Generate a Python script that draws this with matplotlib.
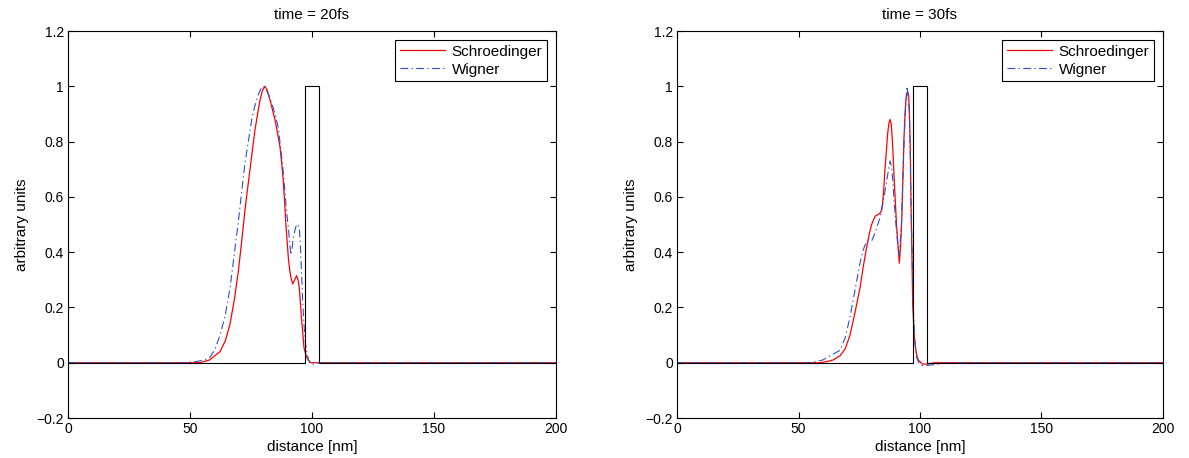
import matplotlib
matplotlib.use("Agg")
import matplotlib.pyplot as plt

plt.rcParams["font.family"] = ["Liberation Sans", "DejaVu Sans"]
plt.rcParams["font.size"] = 10

# ---- data ----
titles = ["time = 20fs", "time = 30fs"]

# time = 20fs
schr20_x = [0, 50, 54, 58, 62.3, 64.5, 66.4, 68.2, 69.8, 71.2, 72.5, 73.6, 74.6, 75.6, 76.6,
            77.7, 78.7, 79.7, 80.7, 81.7, 82.8, 83.8, 84.8, 85.9, 86.9, 87.6, 88.2, 88.8,
            89.3, 89.8, 90.3, 90.8, 91.3, 92.1, 92.9, 93.7, 94.3, 94.8, 95.3, 95.8, 96.3,
            96.7, 97.6, 98.5, 99.5, 105, 200]
schr20_y = [0, 0, 0, 0.01, 0.04, 0.08, 0.14, 0.23, 0.33, 0.44, 0.55, 0.63, 0.70, 0.77, 0.84,
            0.90, 0.95, 0.985, 1.0, 0.985, 0.95, 0.915, 0.88, 0.83, 0.78, 0.72, 0.66, 0.58,
            0.50, 0.44, 0.38, 0.34, 0.31, 0.285, 0.30, 0.315, 0.30, 0.27, 0.21, 0.15, 0.10,
            0.055, 0.025, 0.01, 0, 0, 0]

wig20_x = [0, 48, 53, 56, 58.2, 60.3, 62.3, 64.4, 66.4, 68.1, 69.8, 71.2, 72.5, 73.9, 75.3,
           76.6, 78.0, 79.0, 80.0, 81.7, 83.5, 84.8, 86.2, 87.1, 88.0, 88.7, 89.3, 89.8,
           90.3, 90.8, 91.3, 91.8, 92.3, 93.0, 93.7, 94.3, 94.8, 95.3, 95.8, 96.2, 96.7,
           97.2, 97.8, 98.6, 99.5, 100.5, 102, 200]
wig20_y = [0, 0, 0.005, 0.01, 0.02, 0.05, 0.10, 0.17, 0.27, 0.39, 0.51, 0.62, 0.72, 0.80, 0.88,
           0.93, 0.97, 0.99, 1.0, 0.98, 0.94, 0.90, 0.85, 0.78, 0.71, 0.64, 0.575, 0.53,
           0.49, 0.44, 0.39, 0.41, 0.45, 0.48, 0.50, 0.50, 0.49, 0.41, 0.31, 0.22, 0.14,
           0.08, 0.04, 0.01, -0.005, -0.005, 0, 0]

# time = 30fs
schr30_x = [0, 55, 58.8, 62, 64.3, 67.1, 69.2, 71.2, 73.2, 75.3, 76.7, 78.1, 79.1, 80.1,
            81.5, 82.5, 83.5, 84.1, 84.6, 85.1, 85.6, 86.2, 86.7, 87.2, 87.7, 88.2, 88.6,
            89.0, 89.4, 89.9, 90.4, 91.0, 91.5, 92.0, 92.5, 93.0, 93.4, 93.8, 94.2, 94.9,
            95.3, 95.6, 96.0, 96.3, 96.7, 97.0, 97.5, 97.9, 98.6, 99.3, 101, 103, 106, 200]
schr30_y = [0, 0, 0, 0.005, 0.01, 0.025, 0.05, 0.10, 0.18, 0.27, 0.35, 0.42, 0.465, 0.50,
            0.53, 0.535, 0.54, 0.55, 0.575, 0.63, 0.70, 0.77, 0.83, 0.865, 0.88, 0.86, 0.81,
            0.74, 0.66, 0.575, 0.49, 0.42, 0.36, 0.42, 0.52, 0.68, 0.81, 0.89, 0.95, 0.98,
            0.97, 0.92, 0.78, 0.575, 0.38, 0.21, 0.12, 0.07, 0.03, 0.01, -0.005, -0.005, 0, 0]

wig30_x = [0, 55, 60, 64, 67.1, 69.2, 71.2, 73.2, 75.3, 76.7, 78.1, 80.1, 81.5, 83.0, 84.0,
           84.8, 85.6, 86.7, 87.7, 88.3, 88.8, 89.4, 90.0, 90.6, 91.2, 91.8, 92.3, 92.8,
           93.3, 93.9, 94.6, 95.1, 95.6, 96.0, 96.3, 96.8, 97.2, 97.8, 98.6, 99.5, 101, 103,
           107, 112, 200]
wig30_y = [0, 0, 0.01, 0.03, 0.045, 0.09, 0.165, 0.26, 0.36, 0.41, 0.44, 0.44, 0.47, 0.51,
           0.54, 0.58, 0.62, 0.68, 0.73, 0.71, 0.66, 0.58, 0.51, 0.45, 0.39, 0.43, 0.49,
           0.62, 0.76, 0.90, 1.0, 0.97, 0.91, 0.75, 0.575, 0.38, 0.21, 0.09, 0.02, 0, -0.01,
           -0.01, -0.005, 0, 0]

barrier_x = [0, 97, 97, 103, 103, 200]
barrier_y = [0, 0, 1, 1, 0, 0]

xticks = [0, 50, 100, 150, 200]
yticks = [-0.2, 0, 0.2, 0.4, 0.6, 0.8, 1, 1.2]
ytick_labels = ["\u22120.2", "0", "0.2", "0.4", "0.6", "0.8", "1", "1.2"]

panels = [
    (titles[0], schr20_x, schr20_y, wig20_x, wig20_y),
    (titles[1], schr30_x, schr30_y, wig30_x, wig30_y),
]

fig = plt.figure(figsize=(11.89, 4.58), dpi=100)
positions = [[0.0572, 0.0873, 0.4104, 0.8450], [0.5694, 0.0873, 0.4087, 0.8450]]

for pos, (title, sx, sy, wx, wy) in zip(positions, panels):
    ax = fig.add_axes(pos)
    ax.plot(sx, sy, color="#ff0000", lw=0.9, label="Schroedinger")
    ax.plot(wx, wy, color="#2b4fd0", lw=0.8, dashes=(7, 3, 1.2, 3), label="Wigner")
    ax.plot(barrier_x, barrier_y, color="black", lw=0.8)
    ax.set_xlim(0, 200)
    ax.set_ylim(-0.2, 1.2)
    ax.set_xticks(xticks)
    ax.set_yticks(yticks)
    ax.set_yticklabels(ytick_labels)
    ax.tick_params(direction="in", top=True, right=True, length=4, width=0.8,
                   labelsize=10, pad=3)
    for sp in ax.spines.values():
        sp.set_linewidth(0.8)
    ax.set_xlabel("distance [nm]", fontsize=11, labelpad=3)
    ax.set_ylabel("arbitrary units", fontsize=11, labelpad=5)
    ax.set_title(title, fontsize=11, pad=9)
    leg = ax.legend(loc="upper right", fontsize=11, handlelength=3.0,
                    borderaxespad=0.6, borderpad=0.3, labelspacing=0.25,
                    handletextpad=0.4, fancybox=False, framealpha=1)
    leg.get_frame().set_edgecolor("black")
    leg.get_frame().set_linewidth(0.8)

fig.savefig("out.png", dpi=100)
